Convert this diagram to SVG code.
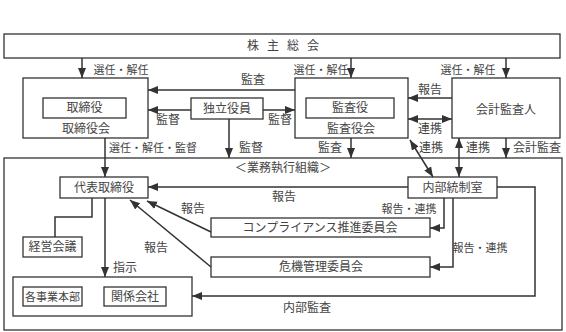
<svg xmlns="http://www.w3.org/2000/svg" width="566" height="332" viewBox="0 0 566 332">
<style>
.b{fill:#fff;stroke:#333;stroke-width:1.3}
.n{fill:none;stroke:#333;stroke-width:1.3}
.c{fill:none;stroke:#333;stroke-width:1.5}
text{font-family:"Noto Sans CJK JP","Noto Sans",sans-serif;font-size:12px;fill:#444;text-anchor:middle}
.s{font-size:11px}
</style>
<defs>
<marker id="a" markerUnits="userSpaceOnUse" markerWidth="10" markerHeight="10" viewBox="0 0 10 10" refX="10" refY="5" orient="auto">
<path d="M0,1 L10,5 L0,9 Z" fill="#333"/>
</marker>
<marker id="as" markerUnits="userSpaceOnUse" markerWidth="10" markerHeight="10" viewBox="0 0 10 10" refX="0" refY="5" orient="auto">
<path d="M10,1 L0,5 L10,9 Z" fill="#333"/>
</marker>
</defs>
<rect width="566" height="332" fill="#fff"/>

<g id="soukai"><rect class="b" x="4" y="34" width="556" height="24"/><text x="287" y="50" letter-spacing="8">株主総会</text></g>
<g id="torishimariyakukai"><rect class="b" x="23" y="78" width="125" height="60"/><rect class="b" x="43" y="98" width="83" height="20"/><text x="84.5" y="112">取締役</text><text x="86" y="133">取締役会</text></g>
<g id="dokuritsu"><rect class="b" x="191" y="98" width="72" height="21"/><text x="227" y="112.5">独立役員</text></g>
<g id="kansayakukai"><rect class="b" x="295" y="78" width="113" height="60"/><rect class="b" x="306" y="98" width="88" height="20"/><text x="350" y="112">監査役</text><text x="351" y="133">監査役会</text></g>
<g id="kaikei"><rect class="b" x="452" y="78" width="108" height="60"/><text x="506" y="114">会計監査人</text></g>
<g id="gyomu"><rect class="n" x="4" y="158" width="558" height="172"/><text x="283" y="172">＜業務執行組織＞</text></g>
<g id="daihyo"><rect class="b" x="60" y="177" width="88" height="21"/><text x="104" y="191.5">代表取締役</text></g>
<g id="naibu"><rect class="b" x="408" y="177" width="89" height="21"/><text x="452.5" y="191.5">内部統制室</text></g>
<g id="compliance"><rect class="b" x="211" y="218" width="219" height="19"/><text x="320" y="231.5">コンプライアンス推進委員会</text></g>
<g id="kiki"><rect class="b" x="211" y="257" width="219" height="20"/><text x="321" y="271">危機管理委員会</text></g>
<g id="keiei"><rect class="b" x="23" y="237" width="59" height="20"/><text x="52.5" y="251">経営会議</text></g>
<g id="group"><rect class="b" x="13" y="277" width="179" height="39"/>
<rect class="b" x="23" y="287" width="59" height="19"/><text class="s" x="52.5" y="300.5">各事業本部</text>
<rect class="b" x="104" y="287" width="62" height="19"/><text x="135" y="300.5">関係会社</text></g>

<g id="connectors">
<line class="c" x1="82" y1="58" x2="82" y2="78" marker-end="url(#a)"/>
<line class="c" x1="351" y1="58" x2="351" y2="78" marker-end="url(#a)"/>
<line class="c" x1="506" y1="58" x2="506" y2="78" marker-end="url(#a)"/>
<line class="c" x1="295" y1="90" x2="148" y2="90" marker-end="url(#a)"/>
<line class="c" x1="191" y1="110" x2="148" y2="110" marker-end="url(#a)"/>
<line class="c" x1="263" y1="110" x2="295" y2="110" marker-end="url(#a)"/>
<line class="c" x1="229" y1="119" x2="229" y2="158" marker-end="url(#a)"/>
<line class="c" x1="105" y1="138" x2="105" y2="177" marker-end="url(#a)"/>
<line class="c" x1="452" y1="98" x2="408" y2="98" marker-end="url(#a)"/>
<line class="c" x1="408" y1="119" x2="452" y2="119" marker-start="url(#as)" marker-end="url(#a)"/>
<line class="c" x1="351" y1="138" x2="351" y2="158" marker-end="url(#a)"/>
<line class="c" x1="410" y1="140" x2="433" y2="177" marker-start="url(#as)" marker-end="url(#a)"/>
<line class="c" x1="459" y1="138" x2="459" y2="177" marker-start="url(#as)" marker-end="url(#a)"/>
<line class="c" x1="506" y1="138" x2="506" y2="158" marker-end="url(#a)"/>
<line class="c" x1="408" y1="187" x2="148" y2="187" marker-end="url(#a)"/>
<polyline class="c" points="444,198 444,228 430,228" marker-end="url(#a)"/>
<polyline class="c" points="453,198 453,267 430,267" marker-end="url(#a)"/>
<line class="c" x1="211" y1="232" x2="147" y2="201" marker-end="url(#a)"/>
<line class="c" x1="211" y1="267" x2="130" y2="200" marker-end="url(#a)"/>
<polyline class="c" points="92,198 92,217 55,217 55,237"/>
<line class="c" x1="105" y1="198" x2="105" y2="277" marker-end="url(#a)"/>
<polyline class="c" points="497,187 535,187 535,296 192,296" marker-end="url(#a)"/>
</g>

<g id="labels">
<text class="s" x="121" y="74">選任・解任</text>
<text x="253" y="84">監査</text>
<text x="168" y="124">監督</text>
<text x="280" y="124">監督</text>
<text x="251" y="152">監督</text>
<text class="s" x="153" y="152">選任・解任・監督</text>
<text class="s" x="321" y="74">選任・解任</text>
<text class="s" x="468" y="74">選任・解任</text>
<text x="430" y="94">報告</text>
<text x="430" y="133">連携</text>
<text x="330" y="152">監査</text>
<text x="431" y="152">連携</text>
<text x="478" y="152">連携</text>
<text x="537" y="152">会計監査</text>
<text x="284" y="201">報告</text>
<text x="193" y="213">報告</text>
<text x="156" y="252">報告</text>
<text class="s" x="409" y="213">報告・連携</text>
<text class="s" x="480" y="252">報告・連携</text>
<text x="125" y="272">指示</text>
<text x="307" y="312">内部監査</text>
</g>
</svg>
